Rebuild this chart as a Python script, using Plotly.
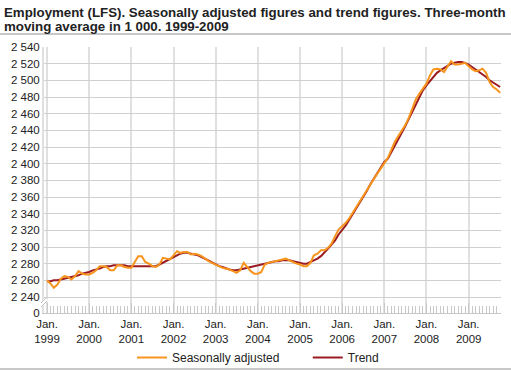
import pandas as pd
import plotly.graph_objects as go

# Monthly, Jan 1999 - Oct 2009 (in 1 000)
months = pd.date_range("1999-01-01", periods=130, freq="MS")

seasonally_adjusted = [
    2260, 2256, 2251, 2255, 2262, 2265, 2264, 2261, 2265, 2271, 2268, 2267,  # 1999
    2267, 2269, 2272, 2277, 2277, 2276, 2272, 2272, 2278, 2278, 2276, 2275,  # 2000
    2275, 2283, 2289, 2289, 2282, 2280, 2277, 2276, 2279, 2287, 2286, 2285,  # 2001
    2290, 2295, 2293, 2294, 2294, 2291, 2292, 2291, 2289, 2286, 2283, 2281,  # 2002
    2279, 2277, 2275, 2274, 2273, 2271, 2269, 2272, 2281, 2276, 2271, 2268,  # 2003
    2268, 2270, 2279, 2281, 2282, 2283, 2284, 2285, 2286, 2284, 2282, 2280,  # 2004
    2279, 2277, 2277, 2281, 2290, 2292, 2296, 2296, 2299, 2304, 2313, 2321,  # 2005
    2325, 2329, 2334, 2341, 2347, 2354, 2361, 2367, 2374, 2381, 2388, 2394,  # 2006
    2400, 2407, 2416, 2426, 2433, 2440, 2446, 2455, 2466, 2477, 2484, 2490,  # 2007
    2496, 2506, 2513, 2514, 2513, 2510, 2516, 2523, 2519, 2519, 2520, 2521,  # 2008
    2517, 2513, 2511, 2512, 2514, 2509, 2498, 2492, 2489, 2485,              # 2009
]

trend = [
    2259, 2259, 2260, 2260, 2261, 2262, 2263, 2264, 2265, 2266, 2268, 2269,  # 1999
    2270, 2272, 2273, 2274, 2276, 2277, 2277, 2278, 2278, 2278, 2278, 2277,  # 2000
    2277, 2277, 2277, 2277, 2277, 2277, 2277, 2277, 2279, 2281, 2284, 2286,  # 2001
    2288, 2290, 2292, 2293, 2293, 2292, 2291, 2290, 2288, 2286, 2284, 2281,  # 2002
    2279, 2277, 2276, 2274, 2273, 2272, 2272, 2273, 2274, 2275, 2276, 2277,  # 2003
    2278, 2279, 2280, 2281, 2282, 2283, 2283, 2284, 2284, 2284, 2283, 2282,  # 2004
    2281, 2280, 2280, 2282, 2284, 2286, 2289, 2293, 2298, 2303, 2308, 2315,  # 2005
    2320, 2326, 2332, 2339, 2345, 2352, 2360, 2367, 2375, 2382, 2389, 2396,  # 2006
    2402, 2406, 2413, 2420, 2428, 2437, 2445, 2454, 2463, 2472, 2480, 2488,  # 2007
    2494, 2499, 2504, 2509, 2512, 2515, 2518, 2520, 2521, 2522, 2522, 2521,  # 2008
    2519, 2516, 2513, 2510, 2507, 2504, 2500, 2497, 2494, 2492,              # 2009
]

year_ticks = [f"{y}-01-01" for y in range(1999, 2010)]
year_labels = [f"Jan.<br>{y}" for y in range(1999, 2010)]

y_tickvals = [2220.8] + list(range(2240, 2541, 20))
y_ticktext = ["0"] + [f"{v // 1000} {v % 1000:03d}" for v in range(2240, 2541, 20)]

title_lines = [
    "Employment (LFS). Seasonally adjusted figures and trend figures. Three-month",
    "moving average in 1 000. 1999-2009",
]

ORANGE = "#F7941D"
DARKRED = "#9B1B23"
FONT = "Liberation Sans, Arial, sans-serif"

fig = go.Figure()
fig.add_trace(go.Scatter(x=months, y=trend, mode="lines", name="Trend",
                         line=dict(color=DARKRED, width=2)))
fig.add_trace(go.Scatter(x=months, y=seasonally_adjusted, mode="lines",
                         name="Seasonally adjusted" + "&nbsp;" * 7,
                         line=dict(color=ORANGE, width=2)))

W, H = 511, 371
L, R, T, B = 44, 10, 47, 58
pw, ph = W - L - R, H - T - B

def px(x):
    return (x - L) / pw

def py(y):
    return (H - B - y) / ph

shapes = [
    # separator under title
    dict(type="line", xref="paper", yref="paper", x0=px(0), x1=px(W),
         y0=py(34), y1=py(34), line=dict(color="#c8c8c8", width=2)),
    # bottom line
    dict(type="line", xref="paper", yref="paper", x0=px(0), x1=px(W),
         y0=py(369), y1=py(369), line=dict(color="#c8c8c8", width=2)),
    # axis break marker
    dict(type="line", xref="paper", yref="paper", x0=px(41), x1=px(47),
         y0=py(305), y1=py(299), line=dict(color="white", width=4)),
    dict(type="line", xref="paper", yref="paper", x0=px(41), x1=px(47),
         y0=py(307), y1=py(301), line=dict(color="#c0c0c0", width=1)),
    dict(type="line", xref="paper", yref="paper", x0=px(41), x1=px(47),
         y0=py(303), y1=py(297), line=dict(color="#c0c0c0", width=1)),
]

annotations = [
    dict(text=f"<b>{line}</b>", xref="paper", yref="paper", x=px(3),
         y=py(yc), xanchor="left", yanchor="middle", align="left",
         showarrow=False, borderpad=0,
         font=dict(family=FONT, size=13.3, color="#222222"))
    for line, yc in zip(title_lines, [12, 27])
]

fig.update_layout(
    width=W, height=H,
    margin=dict(l=L, r=R, t=T, b=B, autoexpand=False),
    paper_bgcolor="white", plot_bgcolor="white",
    font=dict(family=FONT, size=11, color="#222222"),
    showlegend=True,
    legend=dict(orientation="h", xref="paper", yref="paper",
                x=px(258), xanchor="center", y=py(343), yanchor="top",
                traceorder="reversed", font=dict(size=12),
                itemwidth=30, bgcolor="rgba(0,0,0,0)"),
    shapes=shapes,
    annotations=annotations,
    xaxis=dict(
        type="date",
        range=["1998-12-06", "2009-10-08"],
        tickmode="array", tickvals=year_ticks, ticktext=year_labels,
        ticks="inside", ticklen=10, tickcolor="#c8c8c8", tickwidth=1,
        showgrid=True, gridcolor="#e0e0e0", gridwidth=2,
        showline=True, linecolor="#c8c8c8", linewidth=1,
        minor=dict(dtick="M1", tick0="1999-01-01", ticks="inside",
                   ticklen=7, tickcolor="#c8c8c8", tickwidth=1, showgrid=False),
        zeroline=False, fixedrange=True,
        tickfont=dict(size=11.5),
    ),
    yaxis=dict(
        range=[2220.8, 2540],
        tickmode="array", tickvals=y_tickvals, ticktext=y_ticktext,
        showgrid=True, gridcolor="#d0d0d0", gridwidth=1,
        showline=True, linecolor="#e0e0e0", linewidth=2,
        ticks="", zeroline=False, fixedrange=True,
        tickfont=dict(size=11.5),
    ),
)

fig.write_html("out.html", config={"displayModeBar": False},
               post_script="document.body.style.margin='0px';")
